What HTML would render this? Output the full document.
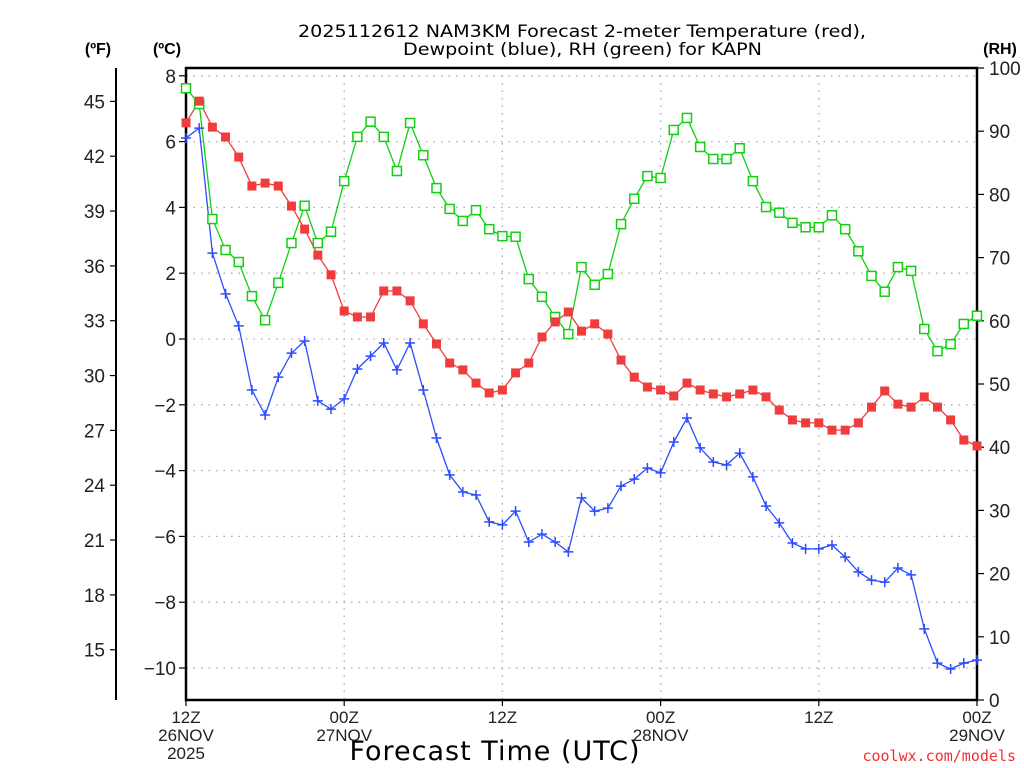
<!DOCTYPE html>
<html><head><meta charset="utf-8"><style>
html,body{margin:0;padding:0;background:#fff;}
svg{display:block;font-family:"Liberation Sans",sans-serif;}
</style></head><body>
<svg id="chart" width="1024" height="768" viewBox="0 0 1024 768" xmlns="http://www.w3.org/2000/svg">
<text x="298" y="37" textLength="568" lengthAdjust="spacingAndGlyphs" font-size="17" font-family="DejaVu Sans, sans-serif">2025112612 NAM3KM Forecast 2-meter Temperature (red),</text>
<text x="403" y="55" textLength="359" lengthAdjust="spacingAndGlyphs" font-size="17" font-family="DejaVu Sans, sans-serif">Dewpoint (blue), RH (green) for KAPN</text>
<text x="98" y="54" text-anchor="middle" font-size="16" font-weight="bold">(ºF)</text>
<text x="167" y="54" text-anchor="middle" font-size="16" font-weight="bold">(ºC)</text>
<text x="1000" y="54" text-anchor="middle" font-size="16" font-weight="bold">(RH)</text>
<text x="495" y="760" text-anchor="middle" font-size="27" font-family="DejaVu Sans, sans-serif" letter-spacing="1">Forecast Time (UTC)</text>
<text x="1016" y="761" text-anchor="end" font-size="15" fill="#f03030" font-family="DejaVu Sans Mono, monospace">coolwx.com/models</text>
<g id="grid"></g><g id="axes"></g><g id="series"></g>
</svg>
<script>
const tempC=[6.57,7.23,6.44,6.14,5.53,4.65,4.74,4.65,4.04,3.34,2.55,1.95,0.85,0.67,0.67,1.46,1.46,1.16,0.46,-0.15,-0.73,
-0.94,-1.34,-1.64,-1.55,-1.03,-0.73,0.06,0.52,0.82,0.24,0.46,0.15,-0.64,-1.16,-1.46,-1.55,-1.73,-1.34,-1.55,
-1.67,-1.76,-1.67,-1.55,-1.76,-2.16,-2.46,-2.55,-2.55,-2.77,-2.77,-2.55,-2.07,-1.58,-1.98,-2.07,-1.76,-2.07,-2.46,-3.07,-3.25];
const dewC=[6.11,6.41,2.61,1.37,0.40,-1.55,-2.31,-1.16,-0.43,-0.06,-1.88,-2.13,-1.82,-0.91,-0.52,-0.12,-0.94,-0.12,-1.55,-3.01,
-4.13,-4.65,-4.74,-5.56,-5.65,-5.23,-6.17,-5.93,-6.17,-6.47,-4.83,-5.23,-5.14,-4.47,-4.26,-3.92,-4.07,-3.13,-2.40,-3.31,
-3.74,-3.83,-3.47,-4.19,-5.08,-5.59,-6.20,-6.38,-6.38,-6.26,-6.63,-7.08,-7.33,-7.39,-6.96,-7.17,-8.81,-9.85,-10.03,-9.85,-9.76];
const rh=[96.8,94.3,76.1,71.2,69.3,63.9,60.1,66.0,72.3,78.2,72.3,74.1,82.1,89.1,91.5,89.1,83.7,91.3,86.2,81.0,77.7,
75.8,77.5,74.5,73.4,73.3,66.6,63.8,60.6,57.9,68.5,65.7,67.4,75.3,79.3,82.9,82.6,90.2,92.1,87.5,
85.6,85.6,87.3,82.1,78.0,77.1,75.5,74.8,74.8,76.7,74.5,71.0,67.1,64.6,68.5,67.9,58.7,55.2,56.3,59.5,60.8];
const cTicks=[8,6,4,2,0,-2,-4,-6,-8,-10];
const fTicks=[45,42,39,36,33,30,27,24,21,18,15];
const rhTicks=[100,90,80,70,60,50,40,30,20,10,0];
const xTickHours=[0,12,24,36,48,60];
const xTickLabels=[["12Z","26NOV","2025"],["00Z","27NOV"],["12Z"],["00Z","28NOV"],["12Z"],["00Z","29NOV"]];

const L=186,R=977,T=68,B=700;
const xS=h=>L+h*(R-L)/60;
const yC=c=>339-c*32.9;
const yF=f=>yC((f-32)/1.8);
const yR=r=>B-r*(B-T)/100;
const NS="http://www.w3.org/2000/svg";
function mk(tag,attrs,parent,txt){const e=document.createElementNS(NS,tag);for(const k in attrs)e.setAttribute(k,attrs[k]);if(txt!==undefined)e.textContent=txt;parent.appendChild(e);return e;}
const grid=document.getElementById('grid'),axes=document.getElementById('axes'),ser=document.getElementById('series');
const gs={stroke:"#aaa","stroke-width":1.3,"stroke-dasharray":"1.5 6"};
cTicks.forEach(c=>{
  const y=yC(c);
  const g=mk('line',Object.assign({x1:L,x2:R,y1:y,y2:y},gs),grid);
  
  
  const t=mk('line',{x1:L-7,x2:L,y1:y,y2:y,stroke:"#000","stroke-width":1.2},axes);
  
  
  const lb=mk('text',{x:L-10,y:y+7,"text-anchor":"end","font-size":19,fill:"#222"},axes,c<0?"\u2212"+(-c):String(c));
  
  
});
xTickHours.forEach((h,i)=>{
  const x=xS(h);
  if(i>0&&i<5){const g=mk('line',Object.assign({x1:x,x2:x,y1:T,y2:B},gs),grid);
  
  }
  const t=mk('line',{x1:x,x2:x,y1:B,y2:B+6,stroke:"#000","stroke-width":1.2},axes);
  
  
  xTickLabels[i].forEach((s,j)=>{
    const lb=mk('text',{x:x,y:B+23+j*18,"text-anchor":"middle","font-size":17,fill:"#222"},axes,s);
    
    
  });
});
const fl=mk('line',{x1:116,x2:116,y1:T,y2:B,stroke:"#000","stroke-width":2},axes);


fTicks.forEach(f=>{
  const y=yF(f);
  const t=mk('line',{x1:110,x2:116,y1:y,y2:y,stroke:"#000","stroke-width":1.2},axes);
  
  
  const lb=mk('text',{x:105,y:y+7,"text-anchor":"end","font-size":19,fill:"#222"},axes,String(f));
  
  
});
rhTicks.forEach(r=>{
  const y=yR(r);
  const t=mk('line',{x1:R,x2:R+7,y1:y,y2:y,stroke:"#000","stroke-width":1.2},axes);
  
  
  const lb=mk('text',{x:989,y:y+7,"text-anchor":"start","font-size":19,fill:"#222"},axes,String(r));
  
  
});
const fr=mk('rect',{x:L,y:T,width:R-L,height:B-T,fill:"none",stroke:"#000","stroke-width":2.5},axes);



function line(vals,yf,color,name){
  const pts=vals.map((v,i)=>xS(i).toFixed(1)+","+yf(v).toFixed(1)).join(" ");
  const p=mk('polyline',{points:pts,fill:"none",stroke:color,"stroke-width":1.3},ser);
  
  
}
line(rh,yR,"#10d010","rh");
line(tempC,yC,"#f03c3c","temperature");
line(dewC,yC,"#2a4cff","dewpoint");
rh.forEach((v,i)=>{
  const m=mk('rect',{x:xS(i)-4.5,y:yR(v)-4.5,width:9,height:9,fill:"#fff",stroke:"#10d010","stroke-width":1.5},ser);
  
  
});
tempC.forEach((v,i)=>{
  const m=mk('rect',{x:xS(i)-4.5,y:yC(v)-4.5,width:9,height:9,fill:"#f03c3c"},ser);
  
  
});
dewC.forEach((v,i)=>{
  const x=xS(i),y=yC(v);
  const m=mk('path',{d:`M${x-5},${y}H${x+5}M${x},${y-5}V${y+5}`,stroke:"#2a4cff","stroke-width":1.5},ser);
  
  
});
</script>
</body></html>
